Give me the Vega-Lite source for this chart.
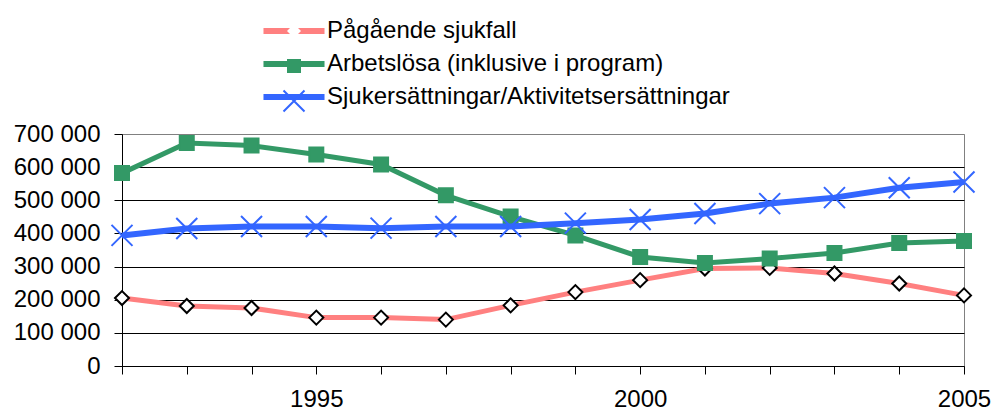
{
  "$schema": "https://vega.github.io/schema/vega-lite/v6.json",
  "width": 842,
  "height": 232,
  "autosize": {"type": "none"},
  "padding": {"left": 122, "top": 134, "right": 29, "bottom": 46},
  "background": "white",
  "config": {
    "font": "Liberation Sans",
    "view": {"stroke": "#808080", "strokeWidth": 1},
    "axis": {"labelFont": "Liberation Sans", "labelFontSize": 24, "labelColor": "black", "domainColor": "black", "tickColor": "black", "domainWidth": 1, "tickWidth": 1},
    "legend": {"padding": 0, "labelFont": "Liberation Sans", "labelFontSize": 24, "labelColor": "black", "rowPadding": 9, "labelLimit": 800}
  },
  "data": {"values": [
    {"year": 1992, "serie": "Pågående sjukfall", "value": 205000},
    {"year": 1993, "serie": "Pågående sjukfall", "value": 181000},
    {"year": 1994, "serie": "Pågående sjukfall", "value": 175000},
    {"year": 1995, "serie": "Pågående sjukfall", "value": 146000},
    {"year": 1996, "serie": "Pågående sjukfall", "value": 146000},
    {"year": 1997, "serie": "Pågående sjukfall", "value": 140000},
    {"year": 1998, "serie": "Pågående sjukfall", "value": 183000},
    {"year": 1999, "serie": "Pågående sjukfall", "value": 223000},
    {"year": 2000, "serie": "Pågående sjukfall", "value": 259000},
    {"year": 2001, "serie": "Pågående sjukfall", "value": 294000},
    {"year": 2002, "serie": "Pågående sjukfall", "value": 296000},
    {"year": 2003, "serie": "Pågående sjukfall", "value": 279000},
    {"year": 2004, "serie": "Pågående sjukfall", "value": 249000},
    {"year": 2005, "serie": "Pågående sjukfall", "value": 213000},
    {"year": 1992, "serie": "Arbetslösa (inklusive i program)", "value": 582000},
    {"year": 1993, "serie": "Arbetslösa (inklusive i program)", "value": 673000},
    {"year": 1994, "serie": "Arbetslösa (inklusive i program)", "value": 665000},
    {"year": 1995, "serie": "Arbetslösa (inklusive i program)", "value": 638000},
    {"year": 1996, "serie": "Arbetslösa (inklusive i program)", "value": 608000},
    {"year": 1997, "serie": "Arbetslösa (inklusive i program)", "value": 515000},
    {"year": 1998, "serie": "Arbetslösa (inklusive i program)", "value": 451000},
    {"year": 1999, "serie": "Arbetslösa (inklusive i program)", "value": 394000},
    {"year": 2000, "serie": "Arbetslösa (inklusive i program)", "value": 329000},
    {"year": 2001, "serie": "Arbetslösa (inklusive i program)", "value": 311000},
    {"year": 2002, "serie": "Arbetslösa (inklusive i program)", "value": 324000},
    {"year": 2003, "serie": "Arbetslösa (inklusive i program)", "value": 341000},
    {"year": 2004, "serie": "Arbetslösa (inklusive i program)", "value": 371000},
    {"year": 2005, "serie": "Arbetslösa (inklusive i program)", "value": 377000},
    {"year": 1992, "serie": "Sjukersättningar/Aktivitetsersättningar", "value": 394000},
    {"year": 1993, "serie": "Sjukersättningar/Aktivitetsersättningar", "value": 415000},
    {"year": 1994, "serie": "Sjukersättningar/Aktivitetsersättningar", "value": 421000},
    {"year": 1995, "serie": "Sjukersättningar/Aktivitetsersättningar", "value": 421000},
    {"year": 1996, "serie": "Sjukersättningar/Aktivitetsersättningar", "value": 416000},
    {"year": 1997, "serie": "Sjukersättningar/Aktivitetsersättningar", "value": 421000},
    {"year": 1998, "serie": "Sjukersättningar/Aktivitetsersättningar", "value": 421000},
    {"year": 1999, "serie": "Sjukersättningar/Aktivitetsersättningar", "value": 431000},
    {"year": 2000, "serie": "Sjukersättningar/Aktivitetsersättningar", "value": 442000},
    {"year": 2001, "serie": "Sjukersättningar/Aktivitetsersättningar", "value": 460000},
    {"year": 2002, "serie": "Sjukersättningar/Aktivitetsersättningar", "value": 490000},
    {"year": 2003, "serie": "Sjukersättningar/Aktivitetsersättningar", "value": 508000},
    {"year": 2004, "serie": "Sjukersättningar/Aktivitetsersättningar", "value": 538000},
    {"year": 2005, "serie": "Sjukersättningar/Aktivitetsersättningar", "value": 555000}
  ]},
  "encoding": {
    "x": {"field": "year", "type": "quantitative",
      "scale": {"domain": [1992, 2005], "nice": false, "zero": false},
      "axis": {"title": null, "values": [1992,1993,1994,1995,1996,1997,1998,1999,2000,2001,2002,2003,2004,2005],
        "format": "d", "labelExpr": "datum.value % 5 == 0 ? datum.label : ''", "grid": false,
        "tickSize": 8, "labelPadding": 13, "labelFlush": false, "labelOverlap": false}},
    "y": {"field": "value", "type": "quantitative",
      "scale": {"domain": [0, 700000], "nice": false},
      "axis": {"title": null, "values": [0,100000,200000,300000,400000,500000,600000,700000],
        "labelExpr": "replace(format(datum.value, ','), ',', ' ')", "tickSize": 8, "labelPadding": 14,
        "grid": true, "gridWidth": 1,
        "gridColor": {"condition": {"test": "datum.value == 700000", "value": "#808080"}, "value": "black"}}}
  },
  "resolve": {"scale": {"shape": "independent"}, "legend": {"shape": "independent"}},
  "layer": [
    {"transform": [{"filter": "datum.serie == 'Pågående sjukfall'"}],
     "mark": {"type": "line", "strokeWidth": 5},
     "encoding": {"color": {"field": "serie", "type": "nominal",
       "scale": {"domain": ["Pågående sjukfall", "Arbetslösa (inklusive i program)", "Sjukersättningar/Aktivitetsersättningar"], "range": ["#FF8080", "#339966", "#3366FF"]},
       "legend": {"orient": "none", "legendX": 160, "legendY": -115, "title": null, "direction": "vertical", "symbolType": "M-4.36,0H4.36", "symbolSize": 196, "symbolStrokeWidth": 6, "labelOffset": 21}}}},
    {"transform": [{"filter": "datum.serie == 'Pågående sjukfall'"}],
     "mark": {"type": "point", "filled": true, "size": 196, "fill": "white", "stroke": "black", "strokeWidth": 2, "opacity": 1},
     "encoding": {
       "shape": {"field": "serie", "type": "nominal", "scale": {"range": ["diamond"]},
         "legend": {"orient": "none", "legendX": 160, "legendY": -115, "title": null, "symbolSize": 196, "symbolStrokeWidth": 2, "symbolFillColor": "white", "symbolStrokeColor": "black", "labelOffset": 21, "labelColor": "transparent"}}}},
    {"transform": [{"filter": "datum.serie == 'Arbetslösa (inklusive i program)'"}],
     "mark": {"type": "line", "strokeWidth": 5},
     "encoding": {"color": {"field": "serie", "type": "nominal",
       "scale": {"domain": ["Pågående sjukfall", "Arbetslösa (inklusive i program)", "Sjukersättningar/Aktivitetsersättningar"], "range": ["#FF8080", "#339966", "#3366FF"]},
       "legend": {"orient": "none", "legendX": 160, "legendY": -115, "title": null, "direction": "vertical", "symbolType": "M-4.36,0H4.36", "symbolSize": 196, "symbolStrokeWidth": 6, "labelOffset": 21}}}},
    {"transform": [{"filter": "datum.serie == 'Arbetslösa (inklusive i program)'"}],
     "mark": {"type": "point", "filled": true, "size": 196, "fill": "#339966", "stroke": "#339966", "strokeWidth": 2, "opacity": 1},
     "encoding": {
       "shape": {"field": "serie", "type": "nominal", "scale": {"range": ["square"]},
         "legend": {"orient": "none", "legendX": 160, "legendY": -80, "title": null, "symbolSize": 196, "symbolStrokeWidth": 2, "symbolFillColor": "#339966", "symbolStrokeColor": "#339966", "labelOffset": 21, "labelColor": "transparent"}}}},
    {"transform": [{"filter": "datum.serie == 'Sjukersättningar/Aktivitetsersättningar'"}],
     "mark": {"type": "line", "strokeWidth": 6},
     "encoding": {"color": {"field": "serie", "type": "nominal",
       "scale": {"domain": ["Pågående sjukfall", "Arbetslösa (inklusive i program)", "Sjukersättningar/Aktivitetsersättningar"], "range": ["#FF8080", "#339966", "#3366FF"]},
       "legend": {"orient": "none", "legendX": 160, "legendY": -115, "title": null, "direction": "vertical", "symbolType": "M-4.36,0H4.36", "symbolSize": 196, "symbolStrokeWidth": 6, "labelOffset": 21}}}},
    {"transform": [{"filter": "datum.serie == 'Sjukersättningar/Aktivitetsersättningar'"}],
     "mark": {"type": "point", "filled": true, "size": 196, "fill": "transparent", "stroke": "#3366FF", "strokeWidth": 2, "opacity": 1},
     "encoding": {
       "shape": {"field": "serie", "type": "nominal", "scale": {"range": ["M-1.5,-1.5L1.5,1.5M-1.5,1.5L1.5,-1.5"]},
         "legend": {"orient": "none", "legendX": 160, "legendY": -45, "title": null, "symbolSize": 196, "symbolStrokeWidth": 2, "symbolFillColor": "transparent", "symbolStrokeColor": "#3366FF", "labelOffset": 21, "labelColor": "transparent"}}}}
  ]
}
